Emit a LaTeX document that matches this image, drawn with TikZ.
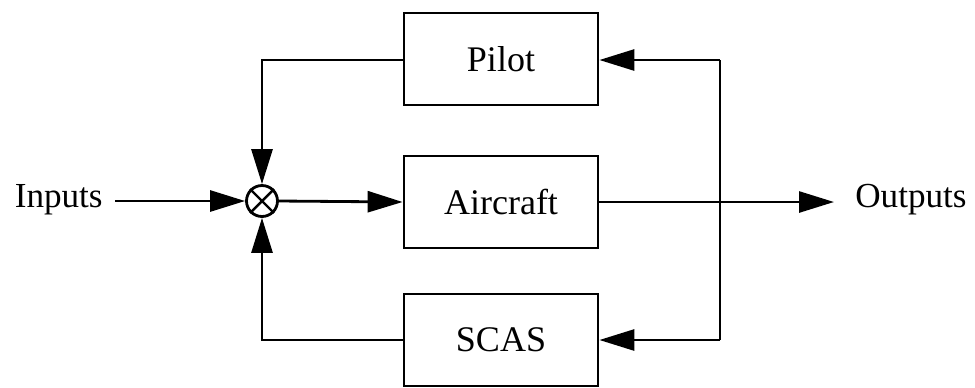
\documentclass[tikz,border=0pt]{standalone}
\usepackage{fontspec}
\setmainfont{Liberation Serif}
\usetikzlibrary{arrows.meta}
\begin{document}
\begin{tikzpicture}[x=0.02cm,y=-0.02cm,
  blk/.style={draw,line width=1.6pt,minimum width=3.88cm,minimum height=1.84cm,inner sep=0pt,font=\fontsize{20.5}{24}\selectfont},
  lbl/.style={inner sep=0pt,font=\fontsize{20}{24}\selectfont},
  wire/.style={line width=1.6pt},
  arr/.style={wire,-{Triangle[length=0.7cm,width=0.42cm]}},
  sumj/.style={draw,circle,line width=1.6pt,minimum size=0.62cm,inner sep=0pt}]
\useasboundingbox (0,0) rectangle (975,387);
\node[blk] (pilot) at (501,59) {Pilot};
\node[blk] (air) at (501,202) {Aircraft};
\node[blk] (scas) at (501,340) {SCAS};
\node[sumj] (sum) at (262,201) {};
\draw[line width=1.4pt] (sum.45) -- (sum.225) (sum.135) -- (sum.315);
\node[lbl,anchor=east] (in) at (103,200) {Inputs};
\node[lbl,anchor=west] (out) at (855,200) {Outputs};
\coordinate (inS) at (115,201);
\coordinate (outT) at (834,202);
\coordinate (tr) at (720,60);
\coordinate (bot) at (720,340);
\coordinate (tl) at (262,60);
\coordinate (bl) at (262,340);
\draw[arr] (inS) -- (sum.west);
\draw[arr] (sum.east) -- (air.west);
\draw[arr] (air.east) -- (outT);
\draw[wire] (tr) -- (bot);
\draw[arr] (tr) -- (pilot.east |- tr);
\draw[arr] (bot) -- (scas.east |- bot);
\draw[arr] (pilot.west |- tl) -- (tl) -- (sum.north);
\draw[arr] (scas.west |- bl) -- (bl) -- (sum.south);
\end{tikzpicture}
\end{document}
